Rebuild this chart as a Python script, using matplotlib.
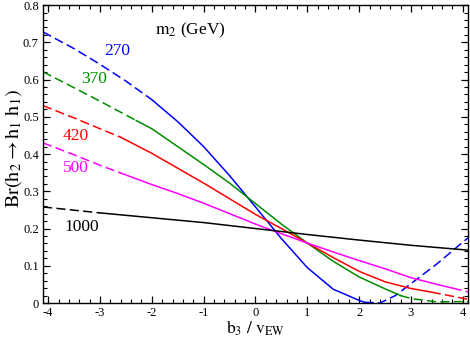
import numpy as np
import matplotlib
matplotlib.use("Agg")
import matplotlib.pyplot as plt
from matplotlib.ticker import MultipleLocator

plt.rcParams['font.family'] = ['Liberation Serif', 'DejaVu Serif']
plt.rcParams['mathtext.fontset'] = 'stix'
plt.rcParams['axes.unicode_minus'] = False

# m2 = 270 GeV
x_270 = [-4.1, -3.5, -3.0, -2.5, -2.0, -1.5, -1.0, -0.5, 0.0, 0.5, 1.0, 1.5, 2.0, 2.1, 2.4, 2.7, 3.0, 3.5, 4.1]
y_270 = [0.728, 0.683, 0.641, 0.596, 0.546, 0.487, 0.42, 0.342, 0.258, 0.173, 0.095, 0.037, 0.007, 0.002, 0.0, 0.02, 0.052, 0.105, 0.175]
# m2 = 370 GeV
x_370 = [-4.1, -3.5, -3.0, -2.3, -2.0, -1.5, -1.0, -0.5, 0.0, 0.5, 1.0, 1.5, 2.0, 2.5, 2.8, 3.0, 3.5, 4.1]
y_370 = [0.621, 0.578, 0.542, 0.49, 0.468, 0.42, 0.372, 0.322, 0.267, 0.212, 0.161, 0.112, 0.07, 0.038, 0.02, 0.012, 0.003, 0.004]
# m2 = 420 GeV
x_420 = [-4.1, -3.5, -3.0, -2.6, -2.0, -1.5, -1.0, -0.5, 0.0, 0.5, 1.0, 1.5, 2.0, 2.5, 3.0, 3.4, 4.1]
y_420 = [0.53, 0.497, 0.468, 0.445, 0.402, 0.362, 0.322, 0.28, 0.238, 0.2, 0.161, 0.122, 0.085, 0.057, 0.039, 0.029, 0.01]
# m2 = 500 GeV
x_500 = [-4.1, -3.5, -3.0, -2.6, -2.0, -1.5, -1.0, -0.5, 0.0, 0.5, 1.0, 1.5, 2.0, 2.5, 3.0, 3.5, 3.8, 4.1]
y_500 = [0.43, 0.398, 0.37, 0.349, 0.318, 0.294, 0.268, 0.24, 0.212, 0.186, 0.161, 0.137, 0.114, 0.092, 0.068, 0.05, 0.04, 0.03]
# m2 = 1000 GeV
x_1000 = [-4.1, -3.0, -2.0, -1.0, 0.0, 1.0, 2.0, 3.0, 4.1]
y_1000 = [0.258, 0.242, 0.229, 0.216, 0.2, 0.184, 0.169, 0.155, 0.142]

masses = ['270', '370', '420', '500', '1000']
colors = ['#0000ff', '#008b00', '#ff0000', '#ff00ff', '#000000']
solid_ranges = [(-2.0, 2.1), (-2.3, 2.8), (-2.6, 3.4), (-2.6, 3.8), (-3.0, 4.1)]
label_pos = [(-2.66, 0.677), (-3.12, 0.602), (-3.47, 0.449), (-3.47, 0.363), (-3.36, 0.204)]
curves = [(x_270, y_270), (x_370, y_370), (x_420, y_420), (x_500, y_500), (x_1000, y_1000)]

fig = plt.figure(figsize=(4.7, 3.41), dpi=100)
ax = fig.add_axes([0.0915, 0.1114, 0.9042, 0.8736])

dash = (0, (6, 2.8))
for (xs, ys), c, (lo, hi), m, (lx, ly) in zip(curves, colors, solid_ranges, masses, label_pos):
    xs = np.array(xs)
    ys = np.array(ys)
    left = xs <= lo
    mid = (xs >= lo) & (xs <= hi)
    right = xs >= hi
    ax.plot(xs[left], ys[left], color=c, lw=1.1, ls=dash)
    ax.plot(xs[mid], ys[mid], color=c, lw=1.1)
    if right.sum() > 1:
        ax.plot(xs[right], ys[right], color=c, lw=1.1, ls=dash)
    ax.text(lx, ly, m, color=c, fontsize=12.5, ha='center', va='center')

ax.text(-1.93, 0.733, r'$\mathrm{m_2}$ (GeV)', fontsize=12.5, ha='left', va='center')

ax.set_xlim(-4.1, 4.1)
ax.set_ylim(0, 0.8)
ax.xaxis.set_major_locator(MultipleLocator(1))
ax.xaxis.set_minor_locator(MultipleLocator(0.2))
ax.yaxis.set_major_locator(MultipleLocator(0.1))
ax.yaxis.set_minor_locator(MultipleLocator(0.02))
ax.set_yticks(np.arange(0, 0.81, 0.1))
ax.set_yticklabels(['0', '0.1', '0.2', '0.3', '0.4', '0.5', '0.6', '0.7', '0.8'])
ax.tick_params(which='both', direction='in', top=True, right=True, labelsize=9)
ax.tick_params(which='major', length=5, width=0.9)
ax.tick_params(axis='x', which='major', pad=3)
ax.tick_params(axis='y', which='major', pad=3)
ax.tick_params(which='minor', length=2.8, width=0.8)
for s in ax.spines.values():
    s.set_linewidth(1.0)

ax.set_xlabel(r'$\mathrm{b_3\ /\ v_{EW}}$', fontsize=12.5, va='center')
ax.set_ylabel(r'$\mathrm{Br(h_2 \rightarrow h_1\ h_1)}$', fontsize=14.5, va='center')
ax.xaxis.set_label_coords(0.5, -0.085)
ax.yaxis.set_label_coords(-0.07, 0.52)

fig.savefig('out.png', dpi=100)
